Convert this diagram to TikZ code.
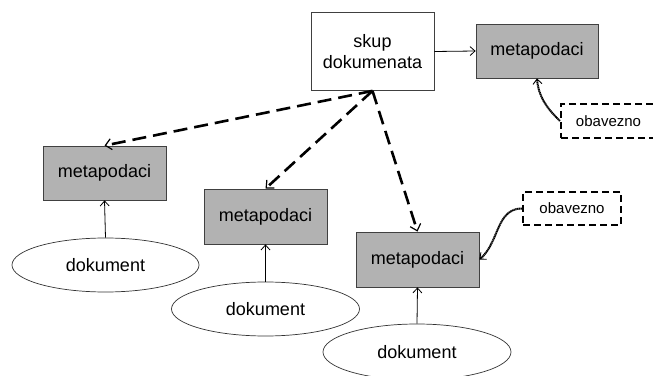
\documentclass[tikz,border=0pt]{standalone}
\usepackage{fontspec}
\setmainfont{Liberation Sans}
\usetikzlibrary{arrows.meta,shapes.geometric}
\begin{document}
\begin{tikzpicture}[x=1pt,y=1pt,
  box/.style={draw=black!75,line width=0.8pt,minimum width=123pt,minimum height=55pt,inner sep=0pt,font=\fontsize{18}{20.7}\selectfont},
  meta/.style={box,fill=black!30},
  doc/.style={draw=black!80,line width=0.7pt,ellipse,inner sep=0pt,font=\fontsize{18}{20.7}\selectfont},
  oblig/.style={draw=black,line width=2.2pt,dash pattern=on 7pt off 4pt,inner sep=0pt,minimum height=34pt,font=\fontsize{15}{17}\selectfont},
  thinarrow/.style={black,line width=0.8pt,-{Straight Barb[length=5pt,width=9pt]}},
  bigdash/.style={black,line width=2.6pt,dash pattern=on 14pt off 7pt,-{Straight Barb[length=6pt,width=11pt,line width=1.2pt]}},
  wavy/.style={black,line width=2pt,dash pattern=on 1.3pt off 0.5pt,-{Straight Barb[length=5pt,width=9pt,line width=0.9pt]}}
]
\clip (0,0) rectangle (653,375);
\fill[white] (0,0) rectangle (653,375);
\node[box,minimum height=78pt,align=center] (skup) at (372.5,323.5) {skup\\dokumenata};
\node[meta,minimum width=122pt,minimum height=54pt] (mtop) at (537,324) {metapodaci};
\node[oblig,minimum width=95pt] (obtop) at (608.5,254) {obavezno};
\node[meta,minimum height=54pt] (mleft) at (104.5,202) {metapodaci};
\node[doc,minimum width=187pt,minimum height=54pt] (dleft) at (105.5,110) {dokument};
\node[meta] (mmid) at (265.5,158.5) {metapodaci};
\node[doc,minimum width=188pt,minimum height=54pt] (dmid) at (265.5,66) {dokument};
\node[meta] (mright) at (417.5,115.5) {metapodaci};
\node[doc,minimum width=188pt,minimum height=56pt] (dright) at (417,23) {dokument};
\node[oblig,minimum width=98pt,minimum height=33pt] (obbot) at (572,166.5) {obavezno};

\draw[thinarrow] (skup.east) -- (mtop.west);
\draw[bigdash] (skup.south) -- (mleft.north);
\draw[bigdash] (skup.south) -- (mmid.north);
\draw[bigdash] (skup.south) -- (mright.north);
\draw[thinarrow] (dleft.north) -- (mleft.south);
\draw[thinarrow] (dmid.north) -- (mmid.south);
\draw[thinarrow] (dright.north) -- (mright.south);
\draw[wavy] (obtop.west) to[out=135,in=-85] (mtop.south);
\draw[wavy] (obbot.west) to[out=180,in=40] (mright.east);
\end{tikzpicture}
\end{document}
